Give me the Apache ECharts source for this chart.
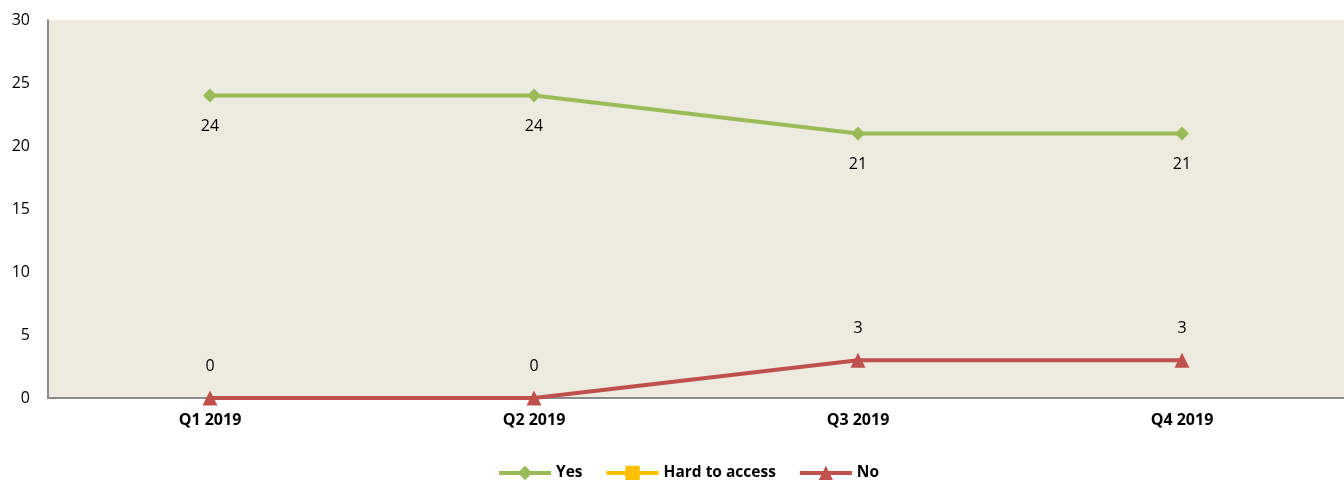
<!DOCTYPE html>
<html>
<head>
<meta charset="utf-8">
<script src="https://cdn.jsdelivr.net/npm/echarts@6/dist/echarts.min.js"></script>
<style>
  html, body { margin: 0; padding: 0; background: #fff; }
  #chart { width: 1344px; height: 480px; }
</style>
</head>
<body>
<div id="chart"></div>
<script>
  var quarters = ['Q1 2019', 'Q2 2019', 'Q3 2019', 'Q4 2019'];
  var yesValues = [24, 24, 21, 21];
  var hardValues = [null, null, null, null];
  var noValues = [0, 0, 3, 3];

  var FONT = '"Open Sans", "Noto Sans", sans-serif';
  var chart = echarts.init(document.getElementById('chart'), null, { renderer: 'canvas' });

  chart.setOption({
    backgroundColor: '#ffffff',
    animation: false,
    textStyle: { fontFamily: FONT },
    grid: { left: 48, right: 0, top: 20, bottom: 82, containLabel: false,
      show: true, backgroundColor: '#edeae0', borderWidth: 0 },
    legend: {
      top: 460, left: 492,
      itemWidth: 52, itemHeight: 18, itemGap: 22,
      lineStyle: { width: 4 },
      textStyle: { fontFamily: FONT, fontSize: 15.5, fontWeight: 'bold', color: '#000' },
      data: ['Yes', 'Hard to access', 'No']
    },
    xAxis: {
      type: 'category',
      data: quarters,
      boundaryGap: true,
      axisLine: { lineStyle: { color: '#8c8c8c', width: 2 } },
      axisTick: { show: false },
      axisLabel: { color: '#000', fontSize: 16, fontWeight: 'bold', fontFamily: FONT, margin: 14 },
      splitLine: { show: false }
    },
    yAxis: {
      type: 'value',
      min: 0, max: 30, interval: 5,
      axisLine: { show: true, lineStyle: { color: '#8c8c8c', width: 2 } },
      axisTick: { show: false },
      axisLabel: { color: '#000', fontSize: 16, fontFamily: FONT, margin: 18 },
      splitLine: { show: false }
    },
    series: [
      {
        name: 'Yes', type: 'line', data: yesValues,
        color: '#9bbb59',
        symbol: 'diamond', symbolSize: 14,
        lineStyle: { width: 4, color: '#9bbb59' },
        itemStyle: { color: '#9bbb59' },
        label: { show: true, position: 'bottom', distance: 16, color: '#000', fontSize: 16, fontFamily: FONT }
      },
      {
        name: 'Hard to access', type: 'line', data: hardValues,
        color: '#ffc000',
        symbol: 'rect', symbolSize: 12,
        lineStyle: { width: 4, color: '#ffc000' },
        itemStyle: { color: '#ffc000' }
      },
      {
        name: 'No', type: 'line', data: noValues,
        color: '#c0504d',
        symbol: 'triangle', symbolSize: 15,
        lineStyle: { width: 4, color: '#c0504d' },
        itemStyle: { color: '#c0504d' },
        label: { show: true, position: 'top', distance: 16, color: '#000', fontSize: 16, fontFamily: FONT }
      }
    ]
  });
</script>
</body>
</html>
